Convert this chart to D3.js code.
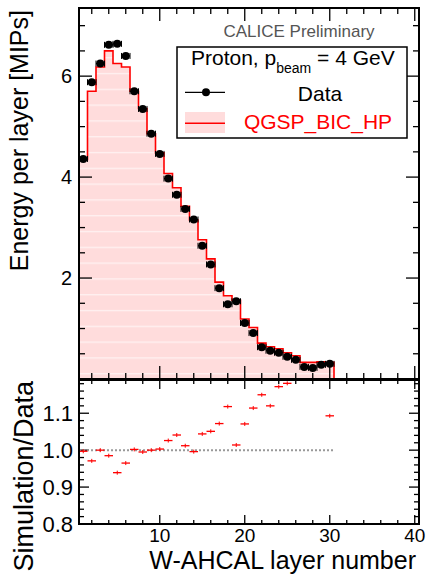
<!DOCTYPE html>
<html><head><meta charset="utf-8">
<script src="https://cdn.jsdelivr.net/npm/d3@7"></script>
<style>html,body{margin:0;padding:0;background:#fff;}svg{display:block;font-family:"Liberation Sans",Arial,sans-serif;}</style>
</head><body><svg id="c" width="426" height="575"></svg>
<script>
// ---- data ----
const layers = [1,2,3,4,5,6,7,8,9,10,11,12,13,14,15,16,17,18,19,20,21,22,23,24,25,26,27,28,29,30];
const dataVals = [4.36,5.88,6.25,6.62,6.64,6.40,5.70,5.35,4.86,4.46,3.97,3.65,3.37,3.16,2.64,2.27,1.80,1.48,1.54,1.11,0.91,0.63,0.56,0.52,0.44,0.38,0.24,0.22,0.28,0.30];
const simBins = [1,2,3,4,5,6,7,8,9,10,11,12,13,14,15,16,17,18,19,20,21,22,23,24,25,26,27,28,29,30,31,32,33,34,35,36,37,38,39,40];
const simVals = [4.35,5.70,6.18,6.50,6.25,6.18,5.70,5.36,4.86,4.48,4.07,3.79,3.42,3.15,2.76,2.38,1.92,1.65,1.56,1.19,1.02,0.71,0.64,0.60,0.52,0.46,0.33,0.33,0.34,0.33,0,0,0,0,0,0,0,0,0,0];
const ratioVals = [0.997,0.971,1.000,0.985,0.939,0.965,1.002,0.995,1.000,1.003,1.026,1.041,1.012,0.996,1.044,1.051,1.072,1.118,1.014,1.071,1.114,1.150,1.120,1.172,1.181,1.21,1.38,1.50,1.21,1.093];
const xTickLabels = [10,20,30,40];
const yTopTickLabels = [2,4,6];
const yBotTickLabels = ["0.8","0.9","1.0","1.1"];

const svg = d3.select("#c");
const L = 79, R = 419, T1 = 8, B1 = 379, T2 = 380, B2 = 524;
const x = d3.scaleLinear().domain([0.5, 40.5]).range([L, R]);
const y1 = d3.scaleLinear().domain([0, 7.35]).range([B1, T1]);
const y2 = d3.scaleLinear().domain([0.8, 1.19]).range([B2, T2]);
const RED = "#ff0000", PINK = "#ffdcdc";

const defs = svg.append("defs");
const pat = defs.append("pattern").attr("id","hatch").attr("patternUnits","userSpaceOnUse")
  .attr("x",0).attr("y",9.7).attr("width",8).attr("height",15.8);
pat.append("rect").attr("width",8).attr("height",15.8).attr("fill",PINK);
pat.append("rect").attr("y",0).attr("width",8).attr("height",1.3).attr("fill","#fff").attr("opacity",0.6);
defs.append("clipPath").attr("id","clip1").append("rect").attr("x",L).attr("y",T1).attr("width",R-L).attr("height",B1-T1);
defs.append("clipPath").attr("id","clip2").append("rect").attr("x",L).attr("y",T2).attr("width",R-L).attr("height",B2-T2);

// ---- top panel histogram ----
const pts = [{e:0.5, v:0}];
simBins.forEach((b,i)=>pts.push({e:b-0.5, v:simVals[i]}));
pts.push({e:40.5, v:simVals[simVals.length-1]});
const g1 = svg.append("g").attr("clip-path","url(#clip1)");
g1.append("path").datum(pts)
  .attr("d", d3.area().x(d=>x(d.e)).y0(y1(0)).y1(d=>y1(d.v)).curve(d3.curveStepAfter))
  .attr("fill","url(#hatch)");
g1.append("path").datum(pts)
  .attr("d", d3.line().x(d=>x(d.e)).y(d=>y1(d.v)).curve(d3.curveStepAfter))
  .attr("fill","none").attr("stroke",RED).attr("stroke-width",1.6);

// ---- frames & ticks ----
function frame(top, bot){
  svg.append("rect").attr("x",L).attr("y",top).attr("width",R-L).attr("height",bot-top)
    .attr("fill","none").attr("stroke","#000").attr("stroke-width",2);
}
function xTicks(top, bot, minLen, majLen){
  const tv = d3.range(2, 41, 2);
  tv.forEach(v=>{
    const len = v%10===0 ? majLen : minLen;
    svg.append("line").attr("x1",x(v)).attr("x2",x(v)).attr("y1",bot).attr("y2",bot-len).attr("stroke","#000").attr("stroke-width",1.3);
    svg.append("line").attr("x1",x(v)).attr("x2",x(v)).attr("y1",top).attr("y2",top+len).attr("stroke","#000").attr("stroke-width",1.3);
  });
}
function yTicks(scale, vals, isMaj, minLen, majLen){
  vals.forEach(v=>{
    const len = isMaj(v) ? majLen : minLen;
    svg.append("line").attr("x1",L).attr("x2",L+len).attr("y1",scale(v)).attr("y2",scale(v)).attr("stroke","#000").attr("stroke-width",1.3);
    svg.append("line").attr("x1",R).attr("x2",R-len).attr("y1",scale(v)).attr("y2",scale(v)).attr("stroke","#000").attr("stroke-width",1.3);
  });
}
xTicks(T1, B1, 6, 13);
yTicks(y1, d3.range(0.5, 7.3, 0.5), v=>Math.abs(v%2)<1e-6, 6, 13);
xTicks(T2, B2, 4, 9);
yTicks(y2, d3.range(0.82, 1.19, 0.02), v=>Math.abs(Math.round(v*10)-v*10)<1e-6, 5, 10);

// ---- data points ----
const gd = svg.append("g");
layers.forEach((l,i)=>{
  const cx = x(l), cy = y1(dataVals[i]);
  gd.append("line").attr("x1",x(l-0.5)).attr("x2",x(l+0.5)).attr("y1",cy).attr("y2",cy).attr("stroke","#000").attr("stroke-width",1.2);
  [l-0.5,l+0.5].forEach(e=>gd.append("line").attr("x1",x(e)).attr("x2",x(e)).attr("y1",cy-3).attr("y2",cy+3).attr("stroke","#000").attr("stroke-width",1));
  gd.append("circle").attr("cx",cx).attr("cy",cy).attr("r",4).attr("fill","#000");
});

// ---- ratio panel ----
const g2 = svg.append("g").attr("clip-path","url(#clip2)");
g2.append("line").attr("x1",x(0.5)).attr("x2",x(30.5)).attr("y1",y2(1)).attr("y2",y2(1))
  .attr("stroke","#999").attr("stroke-width",2).attr("stroke-dasharray","2,2");
layers.forEach((l,i)=>{
  const r = ratioVals[i];
  if (r > 1.19 || r < 0.8) return;
  const cy = y2(r);
  g2.append("line").attr("x1",x(l-0.5)).attr("x2",x(l+0.5)).attr("y1",cy).attr("y2",cy).attr("stroke",RED).attr("stroke-width",1.3);
  g2.append("line").attr("x1",x(l)).attr("x2",x(l)).attr("y1",cy-2).attr("y2",cy+2).attr("stroke",RED).attr("stroke-width",1);
});

frame(T1, B1);
frame(T2, B2);

// ---- tick labels ----
xTickLabels.forEach(v=>svg.append("text").attr("x",x(v)).attr("y",542).attr("text-anchor","middle").attr("font-size",19).text(v));
yTopTickLabels.forEach(v=>svg.append("text").attr("x",72).attr("y",y1(v)+7).attr("text-anchor","end").attr("font-size",20).text(v));
yBotTickLabels.forEach(v=>svg.append("text").attr("x",73).attr("y",y2(+v)+8).attr("text-anchor","end").attr("font-size",22).text(v));

// ---- axis titles ----
svg.append("text").attr("transform","translate(28,10) rotate(-90)").attr("text-anchor","end").attr("font-size",25).text("Energy per layer [MIPs]");
svg.append("text").attr("transform","translate(33,381) rotate(-90)").attr("text-anchor","end").attr("font-size",27).text("Simulation/Data");
svg.append("text").attr("x",416).attr("y",569).attr("text-anchor","end").attr("font-size",25).text("W-AHCAL layer number");

// ---- annotations & legend ----
svg.append("text").attr("x",299).attr("y",37).attr("text-anchor","middle").attr("font-size",17).attr("fill","#555").text("CALICE Preliminary");
svg.append("rect").attr("x",177).attr("y",47).attr("width",230).attr("height",91).attr("fill","#fff").attr("stroke","#000").attr("stroke-width",1.5);
const t = svg.append("text").attr("x",191).attr("y",65).attr("font-size",21);
t.append("tspan").text("Proton, p");
t.append("tspan").attr("font-size",14).attr("dy",8).text("beam");
t.append("tspan").attr("dy",-8).text(" = 4 GeV");
svg.append("line").attr("x1",185).attr("x2",225).attr("y1",92.3).attr("y2",92.3).attr("stroke","#000").attr("stroke-width",1.2);
svg.append("circle").attr("cx",206).attr("cy",92.3).attr("r",4).attr("fill","#000");
svg.append("text").attr("x",320).attr("y",101).attr("text-anchor","middle").attr("font-size",21).text("Data");
svg.append("rect").attr("x",185).attr("y",112).attr("width",40).attr("height",21).attr("fill",PINK);
svg.append("line").attr("x1",185).attr("x2",225).attr("y1",123.3).attr("y2",123.3).attr("stroke",RED).attr("stroke-width",1.5);
svg.append("text").attr("x",318).attr("y",129).attr("text-anchor","middle").attr("font-size",21).attr("fill",RED).text("QGSP_BIC_HP");
</script></body></html>
